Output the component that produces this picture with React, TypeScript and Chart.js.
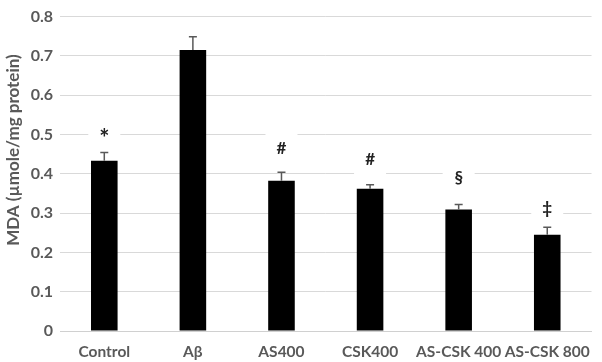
import React, { useEffect, useRef } from "react";
import { Chart, registerables } from "chart.js";

Chart.register(...registerables);

const categories = ["Control", "Aβ", "AS400", "CSK400", "AS-CSK 400", "AS-CSK 800"];
const mdaMeans = [0.433, 0.715, 0.382, 0.362, 0.309, 0.245];
const mdaErrors = [0.021, 0.034, 0.022, 0.010, 0.013, 0.019];
const sigMarks = ["*", "", "#", "#", "§", "‡"];
const yTickMax = 0.8;
const yTickStep = 0.1;
const yTitle = "MDA (µmole/mg protein)";

// pixel gap between error-bar cap and the centre of each significance mark
const markOffsets = [18, 0, 24, 25, 27, 19];

const FONT = "Lato, 'Open Sans', 'Liberation Sans', sans-serif";

const errorBarPlugin = {
  id: "errorBars",
  afterDatasetsDraw(chart: any) {
    const ctx = chart.ctx;
    const meta = chart.getDatasetMeta(0);
    const y = chart.scales.y;
    ctx.save();
    ctx.strokeStyle = "#595959";
    ctx.lineWidth = 1.5;
    meta.data.forEach((bar: any, i: number) => {
      const x = bar.x;
      const yTop = y.getPixelForValue(mdaMeans[i]);
      const yErr = y.getPixelForValue(mdaMeans[i] + mdaErrors[i]);
      ctx.beginPath();
      ctx.moveTo(x, yTop);
      ctx.lineTo(x, yErr);
      ctx.moveTo(x - 4, yErr);
      ctx.lineTo(x + 4, yErr);
      ctx.stroke();
      const mark = sigMarks[i];
      if (mark) {
        const cy = yErr - markOffsets[i];
        ctx.fillStyle = "#ffffff";
        ctx.fillRect(x - 16, cy - 15, 32, 30);
        ctx.fillStyle = "#222222";
        const isStar = mark === "*";
        ctx.font = `bold ${isStar ? 24 : 17}px ${FONT}`;
        ctx.textAlign = "center";
        ctx.textBaseline = "middle";
        ctx.fillText(mark, x, isStar ? cy + 5 : cy);
      }
    });
    ctx.restore();
  },
};

const titlePlugin = {
  id: "yTitleManual",
  afterDraw(chart: any) {
    const ctx = chart.ctx;
    ctx.save();
    ctx.translate(14, 150);
    ctx.rotate(-Math.PI / 2);
    ctx.fillStyle = "#595959";
    ctx.font = `bold 17px ${FONT}`;
    ctx.textAlign = "center";
    ctx.textBaseline = "middle";
    ctx.fillText(yTitle, 0, 0);
    ctx.restore();
  },
};

export default function App() {
  const canvasRef = useRef<HTMLCanvasElement | null>(null);

  useEffect(() => {
    if (!canvasRef.current) return;
    const chart = new Chart(canvasRef.current, {
      type: "bar",
      data: {
        labels: categories,
        datasets: [
          {
            data: mdaMeans,
            backgroundColor: "#000000",
            borderWidth: 0,
            barPercentage: 0.3,
            categoryPercentage: 1,
          },
        ],
      },
      options: {
        animation: false,
        responsive: false,
        layout: { padding: { top: 6, right: 2, left: 0, bottom: 0 } },
        plugins: {
          legend: { display: false },
          tooltip: { enabled: false },
        },
        scales: {
          x: {
            grid: { display: false, drawTicks: false },
            border: { display: true, color: "#d0d0d0", width: 1 },
            ticks: {
              padding: 12,
              color: "#595959",
              font: { family: FONT, size: 15.5, weight: "bold" },
              maxRotation: 0,
              autoSkip: false,
            },
            afterFit(scale: any) {
              scale.height = 31;
            },
          },
          y: {
            min: 0,
            max: yTickMax,
            grid: { color: "#d9d9d9", lineWidth: 1, drawTicks: false },
            border: { display: false },
            ticks: {
              stepSize: yTickStep,
              padding: 7,
              color: "#595959",
              font: { family: FONT, size: 16, weight: "bold" },
            },
            afterFit(scale: any) {
              scale.width = 60;
            },
          },
        },
      },
      plugins: [errorBarPlugin, titlePlugin],
    });
    return () => chart.destroy();
  }, []);

  return (
    <div style={{ position: "fixed", left: 0, top: 0, width: 602, height: 362, background: "#fff" }}>
      <canvas ref={canvasRef} width={602} height={362} style={{ width: 602, height: 362 }} />
    </div>
  );
}
